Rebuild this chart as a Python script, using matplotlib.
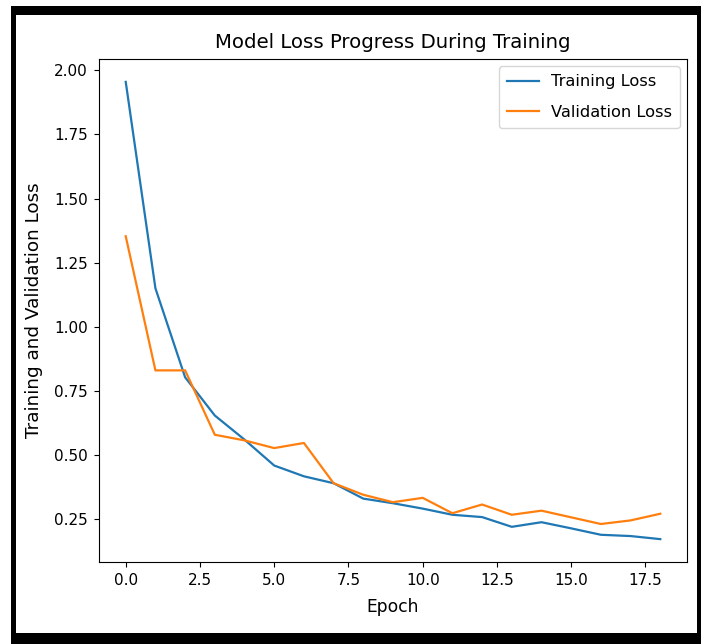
import numpy as np
import matplotlib.pyplot as plt
from matplotlib.patches import Rectangle

# Loss values per epoch
epochs = np.arange(19)
train_loss = [1.955, 1.150, 0.803, 0.654, 0.560, 0.459, 0.417, 0.390, 0.330,
              0.312, 0.291, 0.267, 0.258, 0.220, 0.238, 0.214, 0.189, 0.184, 0.172]
val_loss = [1.353, 0.830, 0.830, 0.579, 0.557, 0.527, 0.547, 0.390, 0.345,
            0.316, 0.333, 0.273, 0.307, 0.267, 0.283, 0.257, 0.231, 0.245, 0.271]

W, H = 701, 644
fig = plt.figure(figsize=(W / 100, H / 100), dpi=100)

# black frame around the screenshot
fig.add_artist(Rectangle((11 / W, 0), 1 - 11 / W, 1 - 6 / H,
                         transform=fig.transFigure, facecolor='black', edgecolor='none', zorder=0))
fig.add_artist(Rectangle((16 / W, 11 / H), (697 - 16) / W, (633 - 15) / H,
                         transform=fig.transFigure, facecolor='white', edgecolor='none', zorder=0))

ax = fig.add_axes([99 / W, (H - 562) / H, (687 - 99) / W, (562 - 59) / H])
ax.plot(epochs, train_loss, label='Training Loss', linewidth=1.6)
ax.plot(epochs, val_loss, label='Validation Loss', linewidth=1.6)

ax.set_title('Model Loss Progress During Training', fontsize=14.2, pad=8)
ax.set_xlabel('Epoch', fontsize=12.3, labelpad=7)
ax.set_ylabel('Training and Validation Loss', fontsize=13.2, labelpad=8)
ax.tick_params(labelsize=11, pad=4.5)
ax.legend(loc='upper right', fontsize=11.7, labelspacing=0.95, borderpad=0.5,
          handletextpad=0.7, borderaxespad=0.45)

fig.savefig('out.png', dpi=100)
